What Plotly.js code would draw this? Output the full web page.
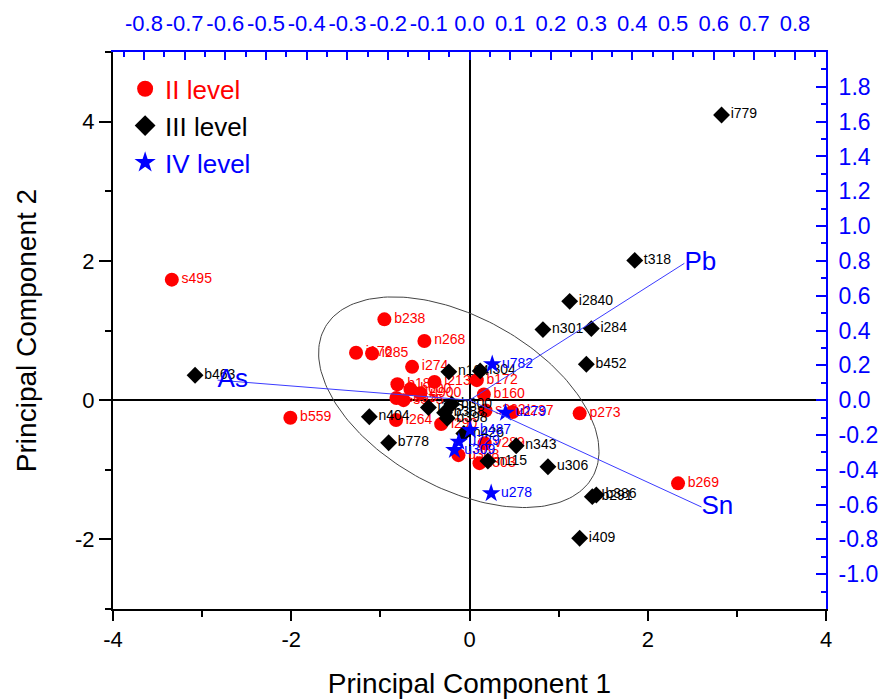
<!DOCTYPE html>
<html>
<head>
<meta charset="utf-8">
<script src="https://cdn.plot.ly/plotly-3.0.1.min.js"></script>
<style>html,body{margin:0;padding:0;background:#fff;}#chart{width:882px;height:699px;}</style>
</head>
<body>
<div id="chart"></div>
<script>
// ---- Data (scores) ----
const level2Names = ['s495','b238','n268','i176','i285','i274','i213','b183','b600','u900','s565','s575','i264','i290','b172','b160','s262','d237','p273','v289','u308','i303','b559','b269'];
const level2X = [-3.34,-0.955,-0.506,-1.273,-1.093,-0.644,-0.393,-0.809,-0.663,-0.551,-0.82,-0.74,-0.824,-0.318,0.082,0.161,0.18,0.483,1.236,0.17,-0.124,0.112,-2.01,2.34];
const level2Y = [1.73,1.16,0.85,0.68,0.67,0.478,0.262,0.229,0.158,0.10,0.03,0.0,-0.287,-0.344,0.287,0.082,-0.15,-0.17,-0.19,-0.62,-0.79,-0.905,-0.253,-1.195];

const level3Names = ['i779','t318','i2840','n301','i284','b452','n343','u306','b291','b386','i409','b463','n404','b778','n104','i304','i275','b300','b388','b398','n426','n115'];
const level3X = [2.828,1.854,1.124,0.824,1.367,1.311,0.524,0.88,1.378,1.423,1.236,-3.079,-1.124,-0.907,-0.232,0.12,-0.461,-0.199,-0.28,-0.25,-0.064,0.206];
const level3Y = [4.096,2.007,1.419,1.013,1.027,0.516,-0.655,-0.956,-1.386,-1.362,-1.983,0.358,-0.239,-0.612,0.406,0.42,-0.105,-0.057,-0.18,-0.26,-0.478,-0.875];

const level4Names = ['u782','u279','b487','u729','u309','u278'];
const level4X = [0.255,0.404,0.008,-0.12,-0.169,0.243];
const level4Y = [0.516,-0.182,-0.43,-0.598,-0.717,-1.338];

// ---- Loadings (top / right axes) ----
const loadNames = ['As','Pb','Sn'];
const loadX = [-0.619,0.528,0.570];
const loadY = [0.115,0.786,-0.614];

// ---- Confidence ellipse parameters (data units) ----
const ellipseCenter = [-0.12,-0.03];
const ellipseL = [[1.573,0.0],[-0.706,1.338]];

// ---- Tick labels ----
const bottomTicks = [-4,-2,0,2,4];
const leftTicks = [-2,0,2,4];
const topTicks = [-0.8,-0.7,-0.6,-0.5,-0.4,-0.3,-0.2,-0.1,0.0,0.1,0.2,0.3,0.4,0.5,0.6,0.7,0.8];
const rightTicks = [-1.0,-0.8,-0.6,-0.4,-0.2,0.0,0.2,0.4,0.6,0.8,1.0,1.2,1.4,1.6,1.8];

// ---- Legend ----
const legendNames = ['II level','III level','IV level'];
const legendColors = ['#ff0000','#000000','#0000ff'];
const legendSymbols = ['circle','diamond','star'];

const FONT = 'Liberation Sans, Arial, sans-serif';
const BLUE = '#0000ff';

// ellipse path
const ex = [], ey = [];
for (let i = 0; i <= 200; i++) {
  const t = 2*Math.PI*i/200;
  const c = Math.cos(t), s = Math.sin(t);
  ex.push(ellipseCenter[0] + ellipseL[0][0]*c + ellipseL[0][1]*s);
  ey.push(ellipseCenter[1] + ellipseL[1][0]*c + ellipseL[1][1]*s);
}

// loading lines from origin
const lx = [], ly = [];
loadX.forEach((v,i)=>{ lx.push(0, v, null); ly.push(0, loadY[i], null); });

const traces = [
  {x: ex, y: ey, mode:'lines', line:{color:'#444444', width:1}, showlegend:false, hoverinfo:'skip'},
  {x: lx, y: ly, xaxis:'x2', yaxis:'y2', mode:'lines', line:{color:'#3b3bff', width:1}, showlegend:false, hoverinfo:'skip'},
  {x: loadX, y: loadY, xaxis:'x2', yaxis:'y2', mode:'text', text: loadNames, textposition:'middle right',
   textfont:{family:FONT, size:26, color:BLUE}, showlegend:false, hoverinfo:'skip'},
  {x: level2X, y: level2Y, mode:'markers+text', text: level2Names, textposition:'middle right',
   name:'II level', showlegend:false,
   marker:{symbol:'circle', size:14, color:'#ff0000'}, textfont:{family:FONT, size:14, color:'#ff0000'}},
  {x: level3X, y: level3Y, mode:'markers+text', text: level3Names, textposition:'middle right',
   name:'III level', showlegend:false,
   marker:{symbol:'diamond', size:13, color:'#000000'}, textfont:{family:FONT, size:14, color:'#000000'}},
  {x: level4X, y: level4Y, mode:'markers+text', text: level4Names, textposition:'middle right',
   name:'IV level', showlegend:false,
   marker:{symbol:'star', size:14, color:BLUE}, textfont:{family:FONT, size:14, color:BLUE}}
];

// legend entries (larger symbols, coloured text)
legendNames.forEach((n,i)=>{
  traces.push({x:[null], y:[null], mode:'markers', showlegend:true, hoverinfo:'skip',
    name:'<span style="color:'+legendColors[i]+'">'+n+'</span>',
    marker:{symbol:legendSymbols[i], size:18, color:legendColors[i]}});
});

const layout = {
  width:882, height:699,
  margin:{l:113, r:56, t:52, b:90},
  paper_bgcolor:'#ffffff', plot_bgcolor:'#ffffff',
  font:{family:FONT, color:'#000'},
  showlegend:true,
  legend:{x:0.017, y:0.976, xanchor:'left', yanchor:'top', bgcolor:'rgba(0,0,0,0)',
          font:{family:FONT, size:26, color:'#000'}, itemsizing:'trace', tracegroupgap:0},
  xaxis:{range:[-4,4], tickmode:'array', tickvals:bottomTicks, ticktext:bottomTicks.map(String),
         ticks:'outside', ticklen:10, tickwidth:2, tickcolor:'#000',
         minor:{dtick:1, tick0:0, ticks:'outside', ticklen:6, tickwidth:2, tickcolor:'#000', showgrid:false},
         showline:true, linecolor:'#000', linewidth:2, mirror:false,
         showgrid:false, zeroline:true, zerolinecolor:'#000', zerolinewidth:2,
         tickfont:{family:FONT, size:22, color:'#000'},
         title:{text:'Principal Component 1', font:{family:FONT, size:28, color:'#000'}, standoff:22}},
  yaxis:{range:[-3,5], tickmode:'array', tickvals:leftTicks, ticktext:leftTicks.map(String),
         ticks:'outside', ticklen:12, tickwidth:2, tickcolor:'#000',
         minor:{dtick:1, tick0:0, ticks:'outside', ticklen:6, tickwidth:2, tickcolor:'#000', showgrid:false},
         showline:true, linecolor:'#000', linewidth:2, mirror:false,
         showgrid:false, zeroline:true, zerolinecolor:'#000', zerolinewidth:2,
         tickfont:{family:FONT, size:22, color:'#000'},
         title:{text:'Principal Component 2', font:{family:FONT, size:28, color:'#000'}, standoff:30}},
  xaxis2:{overlaying:'x', side:'top', range:[-0.876,0.876], tickmode:'array', tickvals:topTicks,
          ticktext:topTicks.map(v=>v.toFixed(1)), tickangle:0,
          ticks:'inside', ticklen:8, tickwidth:2, tickcolor:BLUE,
          minor:{dtick:0.05, tick0:0, ticks:'inside', ticklen:5, tickwidth:2, tickcolor:BLUE, showgrid:false},
          showline:true, linecolor:BLUE, linewidth:2, showgrid:false, zeroline:false,
          tickfont:{family:FONT, size:22, color:BLUE}, ticklabelstandoff:10},
  yaxis2:{overlaying:'y', side:'right', range:[-1.2,2.0], tickmode:'array', tickvals:rightTicks,
          ticktext:rightTicks.map(v=>v.toFixed(1)),
          ticks:'inside', ticklen:10, tickwidth:2, tickcolor:BLUE,
          minor:{dtick:0.1, tick0:0, ticks:'inside', ticklen:5, tickwidth:2, tickcolor:BLUE, showgrid:false},
          showline:true, linecolor:BLUE, linewidth:2, showgrid:false, zeroline:false,
          tickfont:{family:FONT, size:23, color:BLUE}, ticklabelstandoff:6}
};

Plotly.newPlot('chart', traces, layout, {displayModeBar:false, staticPlot:true});
</script>
</body>
</html>
